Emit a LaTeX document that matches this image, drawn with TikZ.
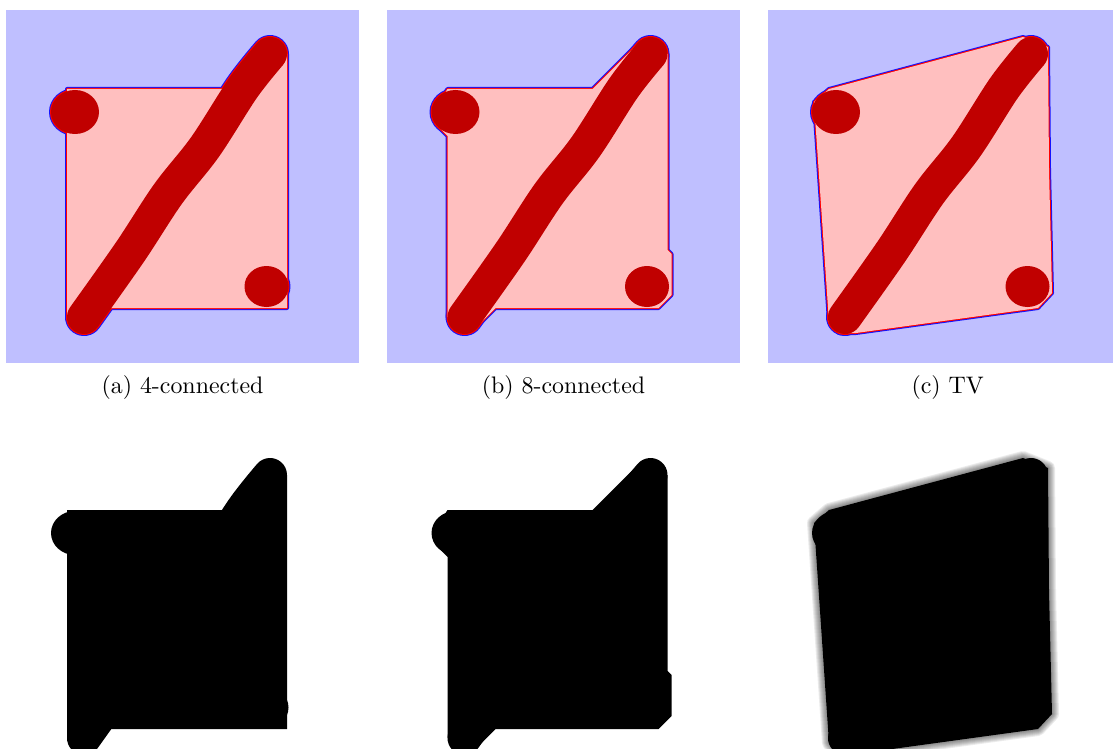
\documentclass[tikz,border=0pt]{standalone}
\usetikzlibrary{positioning}

% region outlines in pixel units of one panel
\def\regfour{(67,89) -- (232,89) -- (250,72) -- (270,54) -- (287,54) -- (287,308) -- (105,308) -- (84,317) -- (67,317) -- cycle}
\def\regeight{(67,89) -- (212,89) -- (262,39) -- (270,54) -- (287,54) -- (287,250) -- (291,254) -- (291,295) -- (278,308) -- (115,308) -- (91,332) -- (84,317) -- (67,317) -- (67,136) -- (55,124) -- (60,100) -- cycle}
\def\regtv{(53,102) -- (68,89) -- (262,37) -- (287,47) -- (288,170) -- (291,293) -- (277,308) -- (95,333) -- (78,333) -- (68,322) -- cycle}
\def\blobs{(75,112) ellipse[x radius=24, y radius=22] (266.5,286.5) ellipse[x radius=22, y radius=20.5]}
\def\brush{plot[smooth, tension=0.55] coordinates {(84,317) (130,252) (168,194) (205,147) (243,88) (270,54)}}

\begin{document}
\begin{tikzpicture}[
  x=1pt, y=-1pt,
  panel/.style={minimum width=353pt, minimum height=353pt, inner sep=0pt, fill=bglav},
  captext/.style={font=\normalsize, scale=2.39, inner sep=0pt},
  rim/.style={draw=#1, line join=round},
  brushline/.style={line width=#1, line cap=round, line join=round}
]

\definecolor{bglav}{RGB}{191,191,255}
\definecolor{fillpink}{RGB}{255,191,191}
\definecolor{inkred}{RGB}{192,0,0}
\definecolor{edgeblue}{RGB}{20,20,255}
\definecolor{edgered}{RGB}{255,0,0}

\useasboundingbox (0,0) rectangle (1113,749);
\clip (0,0) rectangle (1113,749);

\node[panel] (pa) at (182.5,186.5) {};
\node[panel] (pb) at (563.5,186.5) {};
\node[panel, minimum width=345pt] (pc) at (940.5,186.5) {};

\node[captext, below=12pt of pa] (capa) {(a) 4-connected};
\node[captext, below=12pt of pb] (capb) {(b) 8-connected};
\node[captext, below=12pt of pc, xshift=3pt] (capc) {(c) TV};

% segmentations
\foreach \reg/\dx in {\regfour/0, \regeight/380.5, \regtv/761} {
  \begin{scope}[shift={(\dx,0)}]
    \path[rim=edgeblue, line width=4pt] \reg;
    \path[rim=edgeblue, line width=4pt] \blobs;
    \draw[edgeblue, brushline=38pt] \brush;
    \path[rim=edgered, line width=2pt] \reg;
    \path[rim=edgered, line width=2pt] \blobs;
    \draw[edgered, brushline=36pt] \brush;
    \fill[fillpink] \reg;
    \fill[inkred] \blobs;
    \draw[inkred, brushline=34pt] \brush;
  \end{scope}
}

% binary masks
\foreach \reg/\dx in {\regfour/0, \regeight/380.5} {
  \begin{scope}[shift={(\dx,421)}]
    \fill[black] \reg;
    \fill[black] \blobs;
    \draw[black, brushline=34pt] \brush;
  \end{scope}
}
\begin{scope}[shift={(761,421)}]
  \foreach \w in {2,4,...,14}
    \draw[black, opacity=0.08, line width=\w pt, line join=round] \regtv;
  \fill[black] \regtv;
  \fill[black] \blobs;
  \draw[black, brushline=34pt] \brush;
\end{scope}

\end{tikzpicture}
\end{document}
